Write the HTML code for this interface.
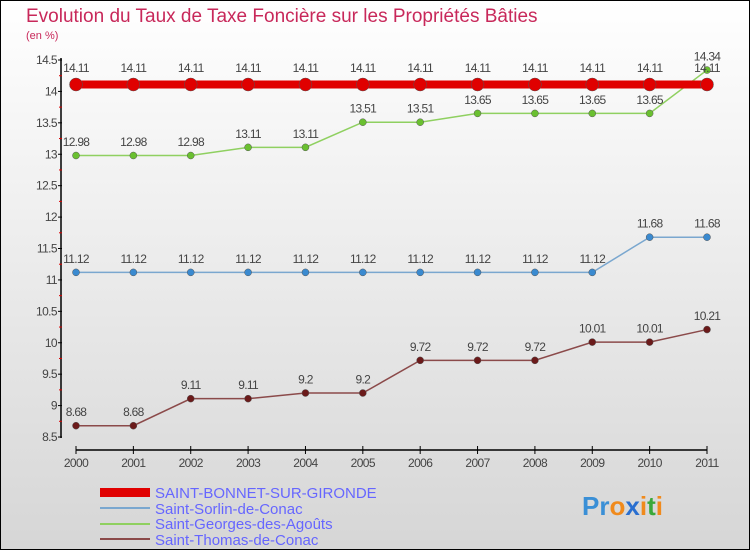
<!DOCTYPE html>
<html><head><meta charset="utf-8"><style>
body{margin:0}
#wrap{position:relative;width:750px;height:550px;box-sizing:border-box;border:1px solid #000;background:linear-gradient(#ffffff,#d6d6d6);font-family:"Liberation Sans",sans-serif;overflow:hidden}
</style></head><body>
<div id="wrap">
<svg id="chart" width="750" height="550" style="position:absolute;left:-1px;top:-1px">
<text x="26" y="22" font-size="19" fill="#c8285a">Evolution du Taux de Taxe Foncière sur les Propriétés Bâties</text>
<text x="26" y="39" font-size="11" fill="#c8285a">(en %)</text>
<g id="axes"></g><g id="series"></g>
<g>
<rect x="100" y="488" width="50" height="9" fill="#e00000"/>
<text x="155" y="498" font-size="15" fill="#6666ff">SAINT-BONNET-SUR-GIRONDE</text>
<rect x="100" y="507" width="50" height="2" fill="#7aa7cf"/>
<text x="155" y="514" font-size="15" fill="#6666ff">Saint-Sorlin-de-Conac</text>
<rect x="100" y="523" width="50" height="2" fill="#8fd060"/>
<text x="155" y="529" font-size="15" fill="#6666ff">Saint-Georges-des-Agoûts</text>
<rect x="100" y="538" width="50" height="2" fill="#8b4a4a"/>
<text x="155" y="545" font-size="15" fill="#6666ff">Saint-Thomas-de-Conac</text>
</g>
<text x="582" y="515" font-size="26" font-weight="bold"><tspan fill="#3a8fd6">Pr</tspan><tspan fill="#f08a1c">o</tspan><tspan fill="#2a6fd0">x</tspan><tspan fill="#f08a1c">i</tspan><tspan fill="#3aa83a">t</tspan><tspan fill="#f08a1c">i</tspan></text>
</svg>
</div>
<script>
const years=["2000","2001","2002","2003","2004","2005","2006","2007","2008","2009","2010","2011"];
const yTicks=[8.5,9,9.5,10,10.5,11,11.5,12,12.5,13,13.5,14,14.5];
const bonnet=[14.11,14.11,14.11,14.11,14.11,14.11,14.11,14.11,14.11,14.11,14.11,14.11];
const sorlin=[11.12,11.12,11.12,11.12,11.12,11.12,11.12,11.12,11.12,11.12,11.68,11.68];
const georges=[12.98,12.98,12.98,13.11,13.11,13.51,13.51,13.65,13.65,13.65,13.65,14.34];
const thomas=[8.68,8.68,9.11,9.11,9.2,9.2,9.72,9.72,9.72,10.01,10.01,10.21];
const NS="http://www.w3.org/2000/svg";
const x=i=>76+i*(707-76)/(years.length-1);
const y=v=>437-(v-8.5)*(437-60)/6;
function mk(tag,attrs,parent){const e=document.createElementNS(NS,tag);for(const k in attrs)e.setAttribute(k,attrs[k]);parent.appendChild(e);return e;}
const ax=document.getElementById('axes');
let l=mk('line',{x1:61,y1:58,x2:61,y2:438,stroke:'#000','stroke-width':1.5},ax);


yTicks.forEach(t=>{
 let tk=mk('line',{x1:58,y1:y(t),x2:62,y2:y(t),stroke:'#000'},ax);
 
 
 if(t<14.5){let m=mk('line',{x1:59,y1:y(t+0.25),x2:62,y2:y(t+0.25),stroke:'#d00'},ax);
 
 }
 let tx=mk('text',{x:57,y:y(t)+4,'font-size':12,'text-anchor':'end',fill:'#444','letter-spacing':'-0.6'},ax);
 tx.textContent=String(t);
 
 
});
l=mk('line',{x1:76,y1:450,x2:707,y2:450,stroke:'#000','stroke-width':1.5},ax);


years.forEach((yr,i)=>{
 let tk=mk('line',{x1:x(i),y1:446,x2:x(i),y2:454,stroke:'#000'},ax);
 
 
 let tx=mk('text',{x:x(i),y:467,'font-size':12,'text-anchor':'middle',fill:'#444','letter-spacing':'-0.6'},ax);
 tx.textContent=yr;
 
 
});
const sg=document.getElementById('series');
function draw(data,name,color,lw,r,dot){
 const g=mk('g',{},sg);
 
 
 let p=mk('polyline',{points:data.map((v,i)=>x(i)+','+y(v)).join(' '),fill:'none',stroke:color,'stroke-width':lw},g);
 
 
 data.forEach((v,i)=>{
  let c=mk('circle',{cx:x(i),cy:y(v),r:r,fill:dot,stroke:'#555','stroke-width':0.5},g);
  
  
  let t=mk('text',{x:x(i),y:y(v)-r-6,'font-size':12,'text-anchor':'middle',fill:'#444','letter-spacing':'-0.7'},g);
  t.textContent=String(v);
  
  
 });
}
draw(thomas,'saint-thomas','#8b4a4a',1.5,3.5,'#6b1a1a');
draw(sorlin,'saint-sorlin','#7aa7cf',1.5,3.5,'#3a8ad0');
draw(georges,'saint-georges','#8fd060',1.5,3.5,'#6ac030');
draw(bonnet,'saint-bonnet','#e00000',8,6.5,'#e00000');
</script>
</body></html>
